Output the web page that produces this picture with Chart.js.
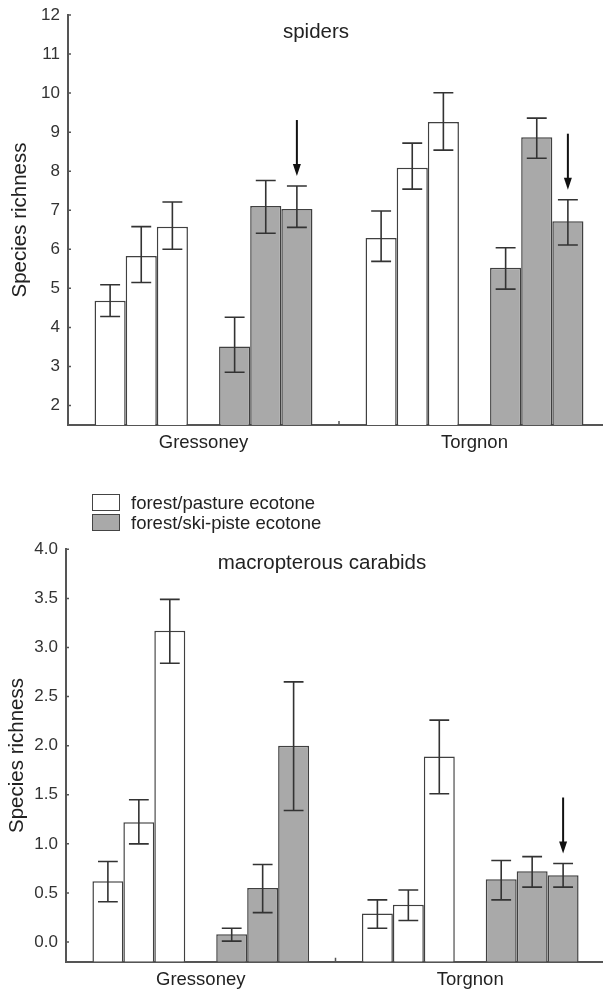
<!DOCTYPE html>
<html>
<head>
<meta charset="utf-8">
<script src="https://cdn.jsdelivr.net/npm/chart.js@4.4.0/dist/chart.umd.min.js"></script>
<style>
html, body { margin: 0; padding: 0; background: #fff; width: 603px; height: 990px; overflow: hidden; }
.panel { position: absolute; left: 0; width: 612px; }
#arriba { top: 0; height: 460px; }
#abajo { top: 490px; height: 500px; }
.caja { position: absolute; left: 92px; width: 26px; height: 15px; border: 1.5px solid #444; }
.texto { position: absolute; left: 131px; font-family: "Liberation Sans", Arial, sans-serif; font-size: 18.5px; color: #222; line-height: 20px; }
</style>
</head>
<body>
<div class="panel" id="arriba"><canvas id="graficoArriba"></canvas></div>
<div class="panel" id="abajo"><canvas id="graficoAbajo"></canvas></div>
<div class="caja" style="top:494px;background:#fff"></div>
<div class="texto" style="top:493px">forest/pasture ecotone</div>
<div class="caja" style="top:514px;background:#a9a9a9"></div>
<div class="texto" style="top:513px">forest/ski-piste ecotone</div>

<script>
var sitios = ['Gressoney', 'Torgnon'];

// spiders: one row per bar, values for [Gressoney, Torgnon]
var arañasTicks = [2, 3, 4, 5, 6, 7, 8, 9, 10, 11, 12];
var arañasPasto = [[4.68, 6.29], [5.83, 8.09], [6.58, 9.26]];
var arañasPastoBajo = [[4.28, 5.69], [5.15, 7.54], [6.0, 8.54]];
var arañasPastoAlto = [[5.09, 6.98], [6.58, 8.72], [7.21, 10.01]];
var arañasPista = [[3.51, 5.53], [7.11, 8.87], [7.03, 6.72]];
var arañasPistaBajo = [[2.85, 4.98], [6.41, 8.33], [6.56, 6.11]];
var arañasPistaAlto = [[4.26, 6.04], [7.76, 9.36], [7.62, 7.27]];
var arañasFlechas = [[0, 2], [1, 2]]; // [sitio, barra de pista]

// macropterous carabids
var carabidosTicks = [0, 0.5, 1, 1.5, 2, 2.5, 3, 3.5, 4];
var carabidosPasto = [[0.62, 0.29], [1.22, 0.38], [3.17, 1.89]];
var carabidosPastoBajo = [[0.41, 0.14], [1.0, 0.22], [2.84, 1.51]];
var carabidosPastoAlto = [[0.82, 0.43], [1.45, 0.53], [3.49, 2.26]];
var carabidosPista = [[0.08, 0.64], [0.55, 0.72], [2.0, 0.68]];
var carabidosPistaBajo = [[0.01, 0.43], [0.30, 0.56], [1.34, 0.56]];
var carabidosPistaAlto = [[0.14, 0.83], [0.79, 0.87], [2.65, 0.80]];
var carabidosFlechas = [[1, 2]];

Chart.defaults.font.family = '"Liberation Sans", Arial, sans-serif';
Chart.defaults.color = '#333';

var COLOR_LINEA = '#404040';

function armarDatasets(pasto, pastoBajo, pastoAlto, pista, pistaBajo, pistaAlto, base) {
    var datasets = [];
    pasto.forEach(function (d, i) {
        datasets.push({ data: d, errBajo: pastoBajo[i], errAlto: pastoAlto[i], base: base,
            backgroundColor: '#ffffff', borderColor: COLOR_LINEA, borderWidth: 1.5, tipo: 'pasto' });
    });
    // hueco entre los dos grupos
    datasets.push({ data: [null, null], base: base });
    pista.forEach(function (d, i) {
        datasets.push({ data: d, errBajo: pistaBajo[i], errAlto: pistaAlto[i], base: base,
            backgroundColor: '#a9a9a9', borderColor: COLOR_LINEA, borderWidth: 1.5, tipo: 'pista' });
    });
    return datasets;
}

var barrasError = {
    id: 'barrasError',
    afterDatasetsDraw: function (chart) {
        var ctx = chart.ctx;
        var y = chart.scales.y;
        ctx.save();
        ctx.strokeStyle = '#333';
        ctx.lineWidth = 1.6;
        chart.data.datasets.forEach(function (ds, i) {
            if (!ds.errBajo) return;
            chart.getDatasetMeta(i).data.forEach(function (barra, j) {
                var arriba = y.getPixelForValue(ds.errAlto[j]);
                var abajo = y.getPixelForValue(ds.errBajo[j]);
                var ancho = barra.width * 0.32;
                ctx.beginPath();
                ctx.moveTo(barra.x, arriba); ctx.lineTo(barra.x, abajo);
                ctx.moveTo(barra.x - ancho, arriba); ctx.lineTo(barra.x + ancho, arriba);
                ctx.moveTo(barra.x - ancho, abajo); ctx.lineTo(barra.x + ancho, abajo);
                ctx.stroke();
            });
        });
        ctx.restore();
    }
};

var flechas = {
    id: 'flechas',
    afterDatasetsDraw: function (chart, args, opts) {
        if (!opts.marcas) return;
        var ctx = chart.ctx;
        var y = chart.scales.y;
        var pistaIdx = [];
        chart.data.datasets.forEach(function (ds, i) { if (ds.tipo === 'pista') pistaIdx.push(i); });
        ctx.save();
        ctx.strokeStyle = '#111';
        ctx.fillStyle = '#111';
        ctx.lineWidth = 2;
        opts.marcas.forEach(function (m) {
            var dsIdx = pistaIdx[m[1]];
            var ds = chart.data.datasets[dsIdx];
            var barra = chart.getDatasetMeta(dsIdx).data[m[0]];
            var punta = y.getPixelForValue(ds.errAlto[m[0]]) - opts.separacion;
            var cola = punta - opts.largo;
            ctx.beginPath();
            ctx.moveTo(barra.x, cola); ctx.lineTo(barra.x, punta - 10);
            ctx.stroke();
            ctx.beginPath();
            ctx.moveTo(barra.x - 4, punta - 12);
            ctx.lineTo(barra.x + 4, punta - 12);
            ctx.lineTo(barra.x, punta);
            ctx.closePath();
            ctx.fill();
        });
        ctx.restore();
    }
};

var tituloPanel = {
    id: 'tituloPanel',
    afterDraw: function (chart, args, opts) {
        var ctx = chart.ctx;
        ctx.save();
        ctx.font = '20.5px "Liberation Sans", Arial, sans-serif';
        ctx.fillStyle = '#222';
        ctx.textAlign = 'center';
        ctx.textBaseline = 'middle';
        ctx.fillText(opts.texto, opts.x, opts.y);
        ctx.restore();
    }
};

// marcas cortas hacia adentro en los ejes
var marcasEje = {
    id: 'marcasEje',
    afterDraw: function (chart) {
        var ctx = chart.ctx;
        var area = chart.chartArea;
        var x = chart.scales.x, y = chart.scales.y;
        ctx.save();
        ctx.strokeStyle = '#555';
        ctx.lineWidth = 1.5;
        ctx.beginPath();
        y.ticks.forEach(function (t) {
            var py = y.getPixelForValue(t.value);
            ctx.moveTo(area.left, py); ctx.lineTo(area.left + 3, py);
        });
        var sep = (x.getPixelForTick(0) + x.getPixelForTick(1)) / 2;
        ctx.moveTo(sep, area.bottom); ctx.lineTo(sep, area.bottom - 4);
        ctx.stroke();
        ctx.restore();
    }
};

function crearGrafico(idCanvas, datasets, yMin, yMax, ticks, decimales, alto, anchoEje, fondoEje, padding, titulo, marcas, tituloPad) {
    var ctx = document.getElementById(idCanvas).getContext('2d');
    return new Chart(ctx, {
        type: 'bar',
        data: { labels: sitios, datasets: datasets },
        options: {
            responsive: true,
            maintainAspectRatio: false,
            animation: false,
            layout: { padding: padding },
            categoryPercentage: 0.804,
            barPercentage: 1.0,
            plugins: {
                legend: { display: false },
                tooltip: { enabled: false },
                tituloPanel: titulo,
                flechas: { marcas: marcas, separacion: 10, largo: 56 }
            },
            scales: {
                x: {
                    grid: { display: true, drawOnChartArea: false, drawTicks: false },
                    border: { color: '#555', width: 2 },
                    ticks: { font: { size: 18.5 }, color: '#222', padding: 7 },
                    afterFit: function (s) { s.height = alto - fondoEje; s.paddingLeft = 0; s.paddingRight = 0; }
                },
                y: {
                    min: yMin,
                    max: yMax,
                    grid: { display: true, drawOnChartArea: false, drawTicks: false },
                    border: { color: '#555', width: 2 },
                    afterBuildTicks: function (s) { s.ticks = ticks.map(function (v) { return { value: v }; }); },
                    ticks: {
                        font: { size: 17 }, color: '#333', padding: 8,
                        callback: function (v) { return v.toFixed(decimales); }
                    },
                    title: { display: true, text: 'Species richness', font: { size: 20.5 }, color: '#222', padding: tituloPad },
                    afterFit: function (s) { s.width = anchoEje; s.paddingTop = 0; s.paddingBottom = 0; }
                }
            }
        },
        plugins: [barrasError, flechas, tituloPanel, marcasEje]
    });
}

crearGrafico('graficoArriba',
    armarDatasets(arañasPasto, arañasPastoBajo, arañasPastoAlto, arañasPista, arañasPistaBajo, arañasPistaAlto, 1.5),
    1.5, 12, arañasTicks, 0, 460, 68, 425,
    { top: 15, right: 2, left: 0, bottom: 0 },
    { texto: 'spiders', x: 316, y: 32 },
    arañasFlechas, { top: 8, bottom: 0 });

crearGrafico('graficoAbajo',
    armarDatasets(carabidosPasto, carabidosPastoBajo, carabidosPastoAlto, carabidosPista, carabidosPistaBajo, carabidosPistaAlto, -0.2),
    -0.2, 4, carabidosTicks, 1, 500, 66, 471.7,
    { top: 59.3, right: 7, left: 0, bottom: 0 },
    { texto: 'macropterous carabids', x: 322, y: 73 },
    carabidosFlechas, { top: 5, bottom: 0 });
</script>
</body>
</html>
